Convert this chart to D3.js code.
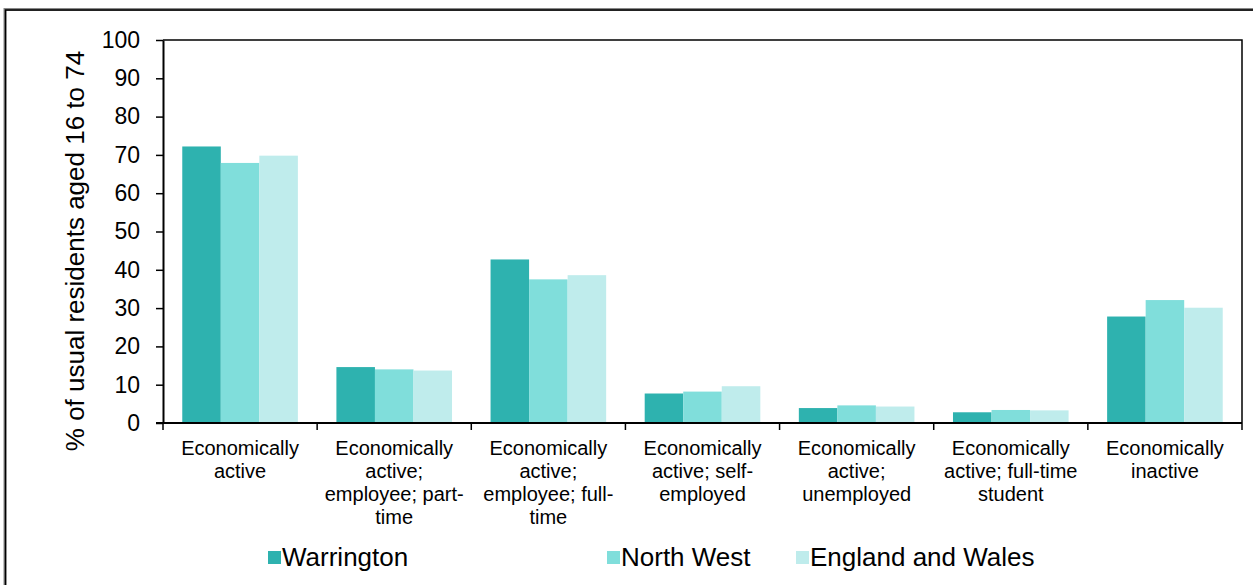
<!DOCTYPE html>
<html>
<head>
<meta charset="utf-8">
<script src="https://cdn.jsdelivr.net/npm/d3@7"></script>
<style>
  body { margin: 0; background: #fff; }
  svg { display: block; font-family: "Liberation Sans", Arial, sans-serif; }
</style>
</head>
<body>
<div id="chart"></div>
<script>
// données
const categories = [
    ['Economically', 'active'],
    ['Economically', 'active;', 'employee; part-', 'time'],
    ['Economically', 'active;', 'employee; full-', 'time'],
    ['Economically', 'active; self-', 'employed'],
    ['Economically', 'active;', 'unemployed'],
    ['Economically', 'active; full-time', 'student'],
    ['Economically', 'inactive']
];
const seriesNames = ['Warrington', 'North West', 'England and Wales'];
const warrington = [72.2, 14.6, 42.7, 7.7, 3.9, 2.8, 27.8];
const northWest = [67.9, 14.0, 37.5, 8.2, 4.6, 3.4, 32.1];
const englandWales = [69.8, 13.7, 38.6, 9.6, 4.3, 3.3, 30.1];
const yTicks = [0, 10, 20, 30, 40, 50, 60, 70, 80, 90, 100];
const colors = ['#2eb2af', '#80dedb', '#bfecec'];

const width = 1253, height = 585;
const margin = { left: 163, right: 11, top: 40, bottom: 162 };

const svg = d3.select('#chart').append('svg')
    .attr('width', width)
    .attr('height', height);

// cadre extérieur
svg.append('path')
    .attr('d', `M5,${height} V9.5 H${width}`)
    .attr('fill', 'none')
    .attr('stroke', '#888')
    .attr('stroke-width', 3);
svg.append('path')
    .attr('d', `M5.5,${height} V10 H${width}`)
    .attr('fill', 'none')
    .attr('stroke', '#000')
    .attr('stroke-width', 1.5);

const x0 = d3.scaleBand()
    .domain(d3.range(categories.length))
    .range([margin.left, width - margin.right]);

const x1 = d3.scaleBand()
    .domain(seriesNames)
    .range([x0.bandwidth() * 0.125, x0.bandwidth() * 0.875]);

const y = d3.scaleLinear()
    .domain([0, 100])
    .range([height - margin.bottom, margin.top]);

const values = [warrington, northWest, englandWales];

// barres
const groups = svg.append('g')
    .selectAll('g')
    .data(categories)
    .enter()
    .append('g')
    .attr('transform', (d, i) => `translate(${x0(i)},0)`);

groups.selectAll('rect')
    .data((d, i) => seriesNames.map((s, j) => ({ s, j, v: values[j][i] })))
    .enter()
    .append('rect')
    .attr('x', d => x1(d.s))
    .attr('y', d => y(d.v))
    .attr('width', x1.bandwidth())
    .attr('height', d => y(0) - y(d.v))
    .attr('fill', d => colors[d.j]);

// bord haut et droit de la zone de tracé
svg.append('path')
    .attr('d', `M${margin.left},${margin.top} H${width - margin.right} V${y(0)}`)
    .attr('fill', 'none')
    .attr('stroke', '#000')
    .attr('stroke-width', 1.5);

// axe y
const yAxis = svg.append('g')
    .attr('transform', `translate(${margin.left},0)`)
    .call(d3.axisLeft(y).tickValues(yTicks).tickSize(7).tickSizeOuter(0).tickPadding(16));
yAxis.select('.domain').attr('stroke-width', 2);
yAxis.selectAll('.tick line').attr('stroke-width', 1.5);
yAxis.selectAll('text')
    .style('font-size', '23px')
    .attr('fill', '#000');

// axe x : traits aux limites des catégories
const boundaries = d3.range(categories.length + 1);
const xAxis = svg.append('g');
xAxis.append('line')
    .attr('x1', margin.left - 7)
    .attr('x2', width - margin.right)
    .attr('y1', y(0))
    .attr('y2', y(0))
    .attr('stroke', '#000')
    .attr('stroke-width', 2);
xAxis.selectAll('line.tk')
    .data(boundaries)
    .enter()
    .append('line')
    .attr('class', 'tk')
    .attr('x1', i => margin.left + i * x0.step())
    .attr('x2', i => margin.left + i * x0.step())
    .attr('y1', y(0))
    .attr('y2', y(0) + 7)
    .attr('stroke', '#000')
    .attr('stroke-width', 1.5);

const labels = svg.append('g')
    .selectAll('text')
    .data(categories)
    .enter()
    .append('text')
    .attr('x', (d, i) => x0(i) + x0.bandwidth() / 2)
    .attr('y', y(0) + 32)
    .attr('text-anchor', 'middle')
    .style('font-size', '20px')
    .attr('fill', '#000');
labels.selectAll('tspan')
    .data(d => d)
    .enter()
    .append('tspan')
    .attr('x', function() { return d3.select(this.parentNode).attr('x'); })
    .attr('dy', (d, i) => i === 0 ? 0 : 23)
    .text(d => d);

// titre de l'axe y
svg.append('text')
    .attr('transform', 'translate(84,251) rotate(-90)')
    .attr('text-anchor', 'middle')
    .style('font-size', '26px')
    .attr('fill', '#000')
    .text('% of usual residents aged 16 to 74');

// légende
const legendX = [268, 607, 796];
const legend = svg.append('g')
    .selectAll('g')
    .data(seriesNames)
    .enter()
    .append('g')
    .attr('transform', (d, i) => `translate(${legendX[i]},557)`);
legend.append('rect')
    .attr('x', 0)
    .attr('y', -6)
    .attr('width', 13)
    .attr('height', 13)
    .attr('fill', (d, i) => colors[i]);
legend.append('text')
    .attr('x', 14)
    .attr('y', 9)
    .style('font-size', '26px')
    .attr('fill', '#000')
    .text(d => d);
</script>
</body>
</html>
